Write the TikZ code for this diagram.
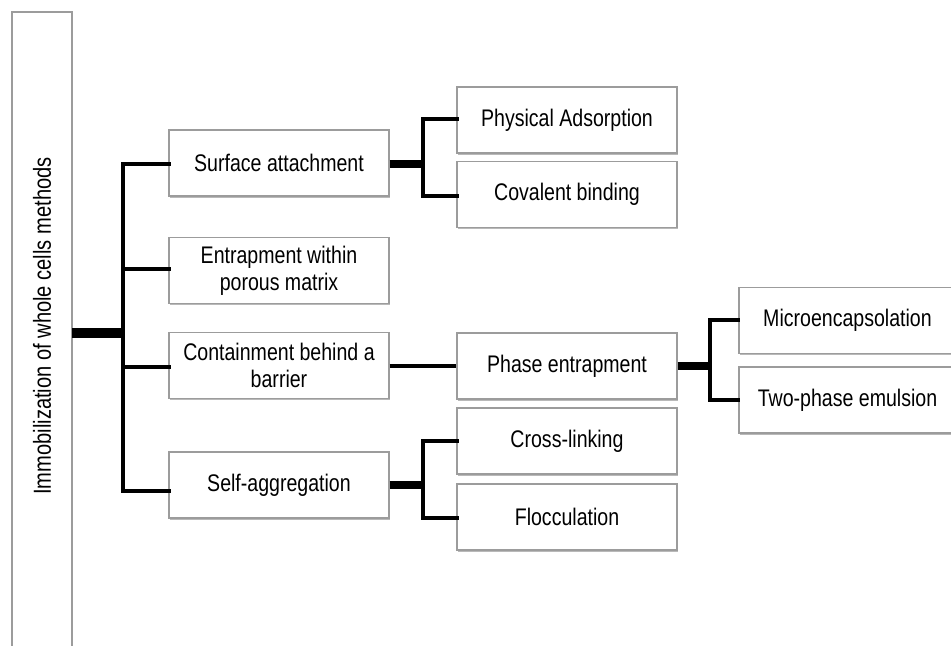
\documentclass[tikz,border=0pt]{standalone}
\usepackage{fontspec}
\setmainfont{Liberation Sans}[FakeStretch=0.815]
\usetikzlibrary{shadows}
\definecolor{boxgray}{HTML}{9C9C9C}
\tikzset{
  box/.style={draw=boxgray, line width=1pt, fill=white, rectangle,
    minimum width=165pt, minimum height=49.5pt, inner sep=0pt,
    align=center, font=\fontsize{18pt}{20.5pt}\selectfont,
    drop shadow={shadow xshift=0.9pt, shadow yshift=-1.4pt, fill=black!50, opacity=0.55}},
  rbox/.style={box, minimum width=163pt},
  link/.style={line width=3.4pt, black, line cap=rect},
  thicklink/.style={line width=6pt, black},
  rootlink/.style={line width=7.5pt, black}
}
\begin{document}
\begin{tikzpicture}[x=0.75pt, y=-0.75pt]
\useasboundingbox (0,0) rectangle (951,646);
\clip (0,0) rectangle (951,646);
\fill[white] (0,0) rectangle (951,646);

% root box
\path[draw=boxgray, line width=1pt, fill=white,
  drop shadow={shadow xshift=1pt, shadow yshift=-1pt, fill=black!50, opacity=0.55}]
  (12,12) rectangle (72,680);
\node[rotate=90, font=\fontsize{18.5pt}{20pt}\selectfont] (root) at (42,326) {Immobilization of whole cells methods};
\coordinate (rootE) at (72,333);

% level 1
\node[box] (surf) at (279,163) {Surface attachment};
\node[box] (entr) at (279,270.5) {Entrapment within\\porous matrix};
\node[box] (cont) at (279,365.5) {Containment behind a\\barrier};
\node[box] (self) at (279,485) {Self-aggregation};

% level 2
\node[box] (phys) at (567,120) {Physical Adsorption};
\node[box] (cova) at (567,194.5) {Covalent binding};
\node[box] (phase) at (567,366) {Phase entrapment};
\node[box] (cross) at (567,441) {Cross-linking};
\node[box] (floc) at (567,517) {Flocculation};

% level 3
\node[rbox] (micro) at (847.5,320.5) {Microencapsolation};
\node[rbox] (two) at (847.5,400) {Two-phase emulsion};

% bus coordinates
\coordinate (bus) at (123,333);
\coordinate (b1) at (123,164);
\coordinate (b2) at (123,269);
\coordinate (b3) at (123,367);
\coordinate (b4) at (123,491);
\coordinate (sv) at (423,164);
\coordinate (s1) at (423,119);
\coordinate (s2) at (423,196);
\coordinate (gv) at (423,485);
\coordinate (g1) at (423,441);
\coordinate (g2) at (423,518);
\coordinate (pv) at (710,366);
\coordinate (p1) at (710,320);
\coordinate (p2) at (710,400);

% root connector
\draw[rootlink] (rootE) -- (bus);
\draw[link] (b1) -- (b4);
\draw[link] (b1) -- (b1 -| surf.west);
\draw[link] (b2) -- (b2 -| entr.west);
\draw[link] (b3) -- (b3 -| cont.west);
\draw[link] (b4) -- (b4 -| self.west);

% surface attachment
\draw[thicklink] (surf.east |- sv) -- (sv);
\draw[link] (s1) -- (s2);
\draw[link] (s1) -- (s1 -| phys.west);
\draw[link] (s2) -- (s2 -| cova.west);

% containment -> phase
\draw[line width=3.4pt] (cont.east |- phase.west) -- (phase.west);

% phase
\draw[thicklink] (phase.east) -- (pv);
\draw[link] (p1) -- (p2);
\draw[link] (p1) -- (p1 -| micro.west);
\draw[link] (p2) -- (p2 -| two.west);

% self aggregation
\draw[thicklink] (self.east) -- (gv);
\draw[link] (g1) -- (g2);
\draw[link] (g1) -- (g1 -| cross.west);
\draw[link] (g2) -- (g2 -| floc.west);
\end{tikzpicture}
\end{document}
